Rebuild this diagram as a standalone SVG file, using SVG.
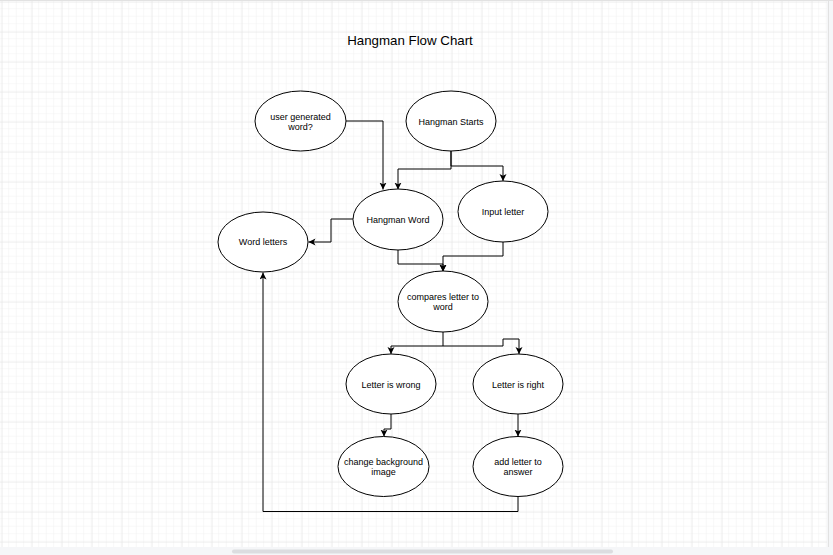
<svg xmlns="http://www.w3.org/2000/svg" width="833" height="555" viewBox="0 0 833 555">
<defs>
<pattern id="minor" x="1.7" y="1.7" width="7.5" height="7.5" patternUnits="userSpaceOnUse">
<path d="M7.5 0V7.5M0 7.5H7.5" fill="none" stroke="#f1f1f1" stroke-width="1"/>
</pattern>
<pattern id="major" x="1.7" y="1.7" width="30" height="30" patternUnits="userSpaceOnUse">
<path d="M0 0V30M0 0H30" fill="none" stroke="#e4e4e4" stroke-width="1"/>
</pattern>
<marker id="arr" markerUnits="userSpaceOnUse" markerWidth="10" markerHeight="10" refX="7" refY="3.5" orient="auto">
<path d="M0,0 L7,3.5 L0,7 L1.8,3.5 Z" fill="#000"/>
</marker>
</defs>
<style>
.n ellipse{fill:#fff;stroke:#000;stroke-width:1}
.n text{font-family:"Liberation Sans",Arial,sans-serif;font-size:9px;fill:#000;text-anchor:middle}
.c path{fill:none;stroke:#000;stroke-width:1;marker-end:url(#arr)}
.c path.nm{marker-end:none}
</style>
<rect x="0" y="0" width="833" height="555" fill="#f5f6f8"/>
<rect x="0" y="0" width="827" height="547" fill="#fff"/>
<rect x="0" y="0" width="827" height="547" fill="url(#minor)"/>
<rect x="0" y="0" width="827" height="547" fill="url(#major)"/>
<line x1="0" y1="0.5" x2="833" y2="0.5" stroke="#e2e2e2"/>
<line x1="828.5" y1="0" x2="828.5" y2="547" stroke="#e2e2e2"/>
<rect x="232" y="549.5" width="381" height="4" rx="2" fill="#dcdde0"/>
<text x="410" y="45" font-family="Liberation Sans,Arial,sans-serif" font-size="13.3" text-anchor="middle" fill="#000">Hangman Flow Chart</text>
<g class="c" id="connectors">
<path d="M346,121 H383 V189.5"/>
<path d="M451,151 V169 H398 V189.5"/>
<path d="M451,151 V166 H503 V181"/>
<path d="M353,219 H331 V242 H308.5"/>
<path d="M398,250 V264 H443 V271.5"/>
<path d="M503,242 V256 H443 V271.5"/>
<path d="M443,332 V346 H391 V354"/>
<path d="M443,346 H503 V339 H519 V354"/>
<path d="M391,414 V429 H384 V436.5"/>
<path d="M518,414 V436.5"/>
<path d="M518,497 V511.5 H263 V272.5"/>
</g>
<g class="n" id="user-word"><ellipse cx="300.5" cy="121" rx="45.5" ry="30"/><text x="300.5" y="120">user generated</text><text x="300.5" y="130">word?</text></g>
<g class="n" id="hangman-starts"><ellipse cx="451" cy="121" rx="45" ry="30"/><text x="451" y="125">Hangman Starts</text></g>
<g class="n" id="hangman-word"><ellipse cx="398" cy="219.5" rx="45" ry="30.5"/><text x="398" y="223">Hangman Word</text></g>
<g class="n" id="input-letter"><ellipse cx="503" cy="211.5" rx="45" ry="30.5"/><text x="503" y="215">Input letter</text></g>
<g class="n" id="word-letters"><ellipse cx="263" cy="242" rx="45" ry="30"/><text x="263" y="245">Word letters</text></g>
<g class="n" id="compares"><ellipse cx="443" cy="301.5" rx="45" ry="30.5"/><text x="443" y="300">compares letter to</text><text x="443" y="310">word</text></g>
<g class="n" id="letter-wrong"><ellipse cx="391" cy="384" rx="45" ry="30"/><text x="391" y="388">Letter is wrong</text></g>
<g class="n" id="letter-right"><ellipse cx="518" cy="384" rx="45" ry="30"/><text x="518" y="388">Letter is right</text></g>
<g class="n" id="change-bg"><ellipse cx="383.5" cy="466.5" rx="45.5" ry="30"/><text x="383.5" y="465">change background</text><text x="383.5" y="475">image</text></g>
<g class="n" id="add-letter"><ellipse cx="518" cy="466.5" rx="45" ry="30"/><text x="518" y="465">add letter to</text><text x="518" y="475">answer</text></g>
</svg>
